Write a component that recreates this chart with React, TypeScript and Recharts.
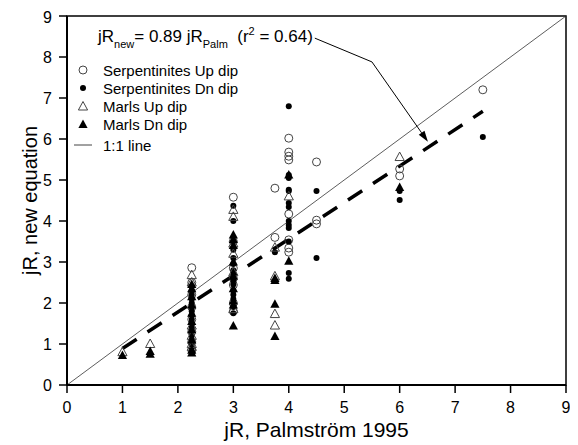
import {
  ScatterChart,
  Scatter,
  XAxis,
  YAxis,
  ReferenceLine,
  ReferenceArea,
  Legend,
} from "recharts";

// each row: [jR Palmström 1995, jR new equation]
const serpUp: [number, number][] = [
  [2.25, 2.86], [2.25, 2.5], [2.25, 2.2], [2.25, 1.9], [2.25, 1.6], [2.25, 1.3], [2.25, 1.05], [2.25, 0.85],
  [3, 4.58], [3, 3.5], [3, 2.85], [3, 2.6], [3, 2.44], [3, 2.0], [3, 1.8],
  [3.75, 4.8], [3.75, 3.6],
  [4, 6.02], [4, 5.68], [4, 5.58], [4, 5.49], [4, 4.17], [4, 3.54], [4, 3.34], [4, 3.24],
  [4.5, 5.44], [4.5, 4.02], [4.5, 3.93],
  [6, 5.27], [6, 5.1],
  [7.5, 7.2],
];

const serpDn: [number, number][] = [
  [2.25, 2.4], [2.25, 2.3], [2.25, 2.2], [2.25, 2.1], [2.25, 2.0], [2.25, 1.9], [2.25, 1.8], [2.25, 1.7],
  [2.25, 1.6], [2.25, 1.5], [2.25, 1.4], [2.25, 1.3], [2.25, 1.2], [2.25, 1.1], [2.25, 1.0], [2.25, 0.9], [2.25, 0.8],
  [3, 4.37], [3, 4.0], [3, 3.5], [3, 3.3], [3, 3.1], [3, 2.95], [3, 2.8], [3, 2.7], [3, 2.55], [3, 2.45],
  [3, 2.3], [3, 2.2], [3, 2.1], [3, 1.9], [3, 1.75],
  [3.75, 3.24],
  [4, 6.8], [4, 5.12], [4, 5.05], [4, 4.76], [4, 4.73], [4, 4.44], [4, 4.34], [4, 4.0], [4, 3.9], [4, 3.83],
  [4, 3.5], [4, 2.73], [4, 2.59],
  [4.5, 4.73], [4.5, 3.1],
  [6, 4.73], [6, 4.51],
  [7.5, 6.05],
];

const marlUp: [number, number][] = [
  [1, 0.8], [1.5, 1.0],
  [2.25, 2.68], [2.25, 2.5], [2.25, 1.45], [2.25, 1.2], [2.25, 1.0], [2.25, 0.93],
  [3, 4.27], [3, 4.1], [3, 3.45], [3, 3.2], [3, 2.75], [3, 1.85],
  [3.75, 3.35], [3.75, 2.65], [3.75, 1.73], [3.75, 1.45],
  [4, 4.6],
  [6, 5.56],
];

const marlDn: [number, number][] = [
  [1, 0.72], [1.5, 0.82], [1.5, 0.75],
  [2.25, 2.45], [2.25, 2.35], [2.25, 2.15], [2.25, 1.95], [2.25, 1.75], [2.25, 1.55], [2.25, 1.35],
  [2.25, 1.1], [2.25, 0.85], [2.25, 0.78],
  [3, 3.66], [3, 3.55], [3, 3.4], [3, 3.0], [3, 2.65], [3, 2.35], [3, 2.05], [3, 1.95], [3, 1.44],
  [3.75, 2.6], [3.75, 2.55], [3.75, 1.97], [3.75, 1.18],
  [4, 5.12], [4, 3.02],
  [6, 4.82],
];

const ticks = [0, 1, 2, 3, 4, 5, 6, 7, 8, 9];
const legendLabels = [
  "Serpentinites Up dip",
  "Serpentinites Dn dip",
  "Marls Up dip",
  "Marls Dn dip",
  "1:1 line",
];

// regression jR_new = 0.89 jR_Palm, drawn over the data range
const slope = 0.89;
const fitFrom = 1;
const fitTo = 7.5;
// arrow from the equation to the fit line
const arrowPath: [number, number][] = [
  [4.47, 8.46],
  [5.5, 7.88],
  [6.51, 5.93],
];

const FONT = "Arial, 'Liberation Sans', sans-serif";
const GREY = "#444";

const toPts = (rows: [number, number][]) => rows.map(([x, y]) => ({ x, y }));

const OpenCircle = (p: any) => (
  <circle cx={p.cx} cy={p.cy} r={4} fill="none" stroke={GREY} strokeWidth={1} />
);
const Dot = (p: any) => <circle cx={p.cx} cy={p.cy} r={3} fill="#000" />;
const triPath = (cx: number, cy: number) =>
  `M${cx},${cy - 5}L${cx + 4.6},${cy + 3.5}L${cx - 4.6},${cy + 3.5}Z`;
const OpenTri = (p: any) => (
  <path d={triPath(p.cx, p.cy)} fill="none" stroke={GREY} strokeWidth={1} />
);
const FilledTri = (p: any) => <path d={triPath(p.cx, p.cy)} fill="#000" />;

const legendSymbols = [
  <circle cx={6} cy={6} r={4} fill="none" stroke={GREY} />,
  <circle cx={6} cy={6} r={3} fill="#000" />,
  <path d={triPath(6, 6.5)} fill="none" stroke={GREY} />,
  <path d={triPath(6, 6.5)} fill="#000" />,
  <line x1={-3} y1={6} x2={15} y2={6} stroke={GREY} strokeWidth={1} />,
];

const LegendBox = () => (
  <div style={{ fontFamily: FONT, fontSize: 15, color: "#000" }}>
    {legendLabels.map((label, i) => (
      <div
        key={label}
        style={{
          display: "flex",
          alignItems: "center",
          height: 18,
          marginTop: i === 4 ? 3 : 0,
        }}
      >
        <svg width={12} height={12} style={{ overflow: "visible" }}>
          {legendSymbols[i]}
        </svg>
        <span style={{ marginLeft: 14, whiteSpace: "nowrap" }}>{label}</span>
      </div>
    ))}
  </div>
);

const ArrowShape = (p: any) => {
  const { x1, y1, x2, y2 } = p;
  const a = Math.atan2(y2 - y1, x2 - x1);
  const len = 11;
  const w = 3.5;
  const bx = x2 - len * Math.cos(a);
  const by = y2 - len * Math.sin(a);
  const nx = -Math.sin(a) * w;
  const ny = Math.cos(a) * w;
  return (
    <g>
      <line x1={x1} y1={y1} x2={bx} y2={by} stroke="#000" strokeWidth={1} />
      <path d={`M${x2},${y2}L${bx + nx},${by + ny}L${bx - nx},${by - ny}Z`} fill="#000" />
    </g>
  );
};

const YLabel = (p: any) => {
  const vb = p.viewBox;
  const cx = 22;
  const cy = vb.y + vb.height / 2;
  return (
    <text
      x={cx}
      y={cy}
      transform={`rotate(-90 ${cx} ${cy})`}
      textAnchor="middle"
      dominantBaseline="central"
      fontSize={20}
      fontFamily={FONT}
      fill="#000"
    >
      jR, new equation
    </text>
  );
};

export default function App() {
  return (
    <ScatterChart
      width={570}
      height={437}
      margin={{ top: 8, right: 12, left: 0, bottom: 0 }}
      style={{ fontFamily: FONT }}
    >
      <ReferenceArea x1={0} x2={9} y1={0} y2={9} fill="none" stroke="#000" strokeWidth={1.5} />
      <XAxis
        type="number"
        dataKey="x"
        domain={[0, 9]}
        ticks={ticks}
        allowDataOverflow
        height={60}
        tickSize={8}
        tickMargin={9}
        axisLine={{ stroke: "#000", strokeWidth: 2 }}
        tickLine={{ stroke: "#000", strokeWidth: 1.5 }}
        tick={{ fill: "#000", fontSize: 16, fontFamily: FONT }}
        label={{
          value: "jR, Palmström 1995",
          position: "insideBottom",
          offset: 8,
          fontSize: 21,
          fill: "#000",
          fontFamily: FONT,
        }}
      />
      <YAxis
        type="number"
        dataKey="y"
        domain={[0, 9]}
        ticks={ticks}
        allowDataOverflow
        width={59}
        tickSize={8}
        tickMargin={7}
        axisLine={{ stroke: "#000", strokeWidth: 2 }}
        tickLine={{ stroke: "#000", strokeWidth: 1.5 }}
        tick={{ fill: "#000", fontSize: 16, fontFamily: FONT }}
        label={{ content: YLabel }}
      />
      <ReferenceLine
        segment={[
          { x: 0, y: 0 },
          { x: 9, y: 9 },
        ]}
        stroke="#333"
        strokeWidth={0.8}
      />
      <ReferenceLine
        segment={[
          { x: fitFrom, y: slope * fitFrom },
          { x: fitTo, y: slope * fitTo },
        ]}
        stroke="#000"
        strokeWidth={3.5}
        strokeDasharray="17 13"
      />
      <ReferenceLine
        segment={[
          { x: arrowPath[0][0], y: arrowPath[0][1] },
          { x: arrowPath[1][0], y: arrowPath[1][1] },
        ]}
        stroke="#000"
        strokeWidth={1}
      />
      <ReferenceLine
        segment={[
          { x: arrowPath[1][0], y: arrowPath[1][1] },
          { x: arrowPath[2][0], y: arrowPath[2][1] },
        ]}
        shape={ArrowShape}
      />
      <Scatter name="Serpentinites Up dip" data={toPts(serpUp)} shape={OpenCircle} isAnimationActive={false} />
      <Scatter name="Serpentinites Dn dip" data={toPts(serpDn)} shape={Dot} isAnimationActive={false} />
      <Scatter name="Marls Up dip" data={toPts(marlUp)} shape={OpenTri} isAnimationActive={false} />
      <Scatter name="Marls Dn dip" data={toPts(marlDn)} shape={FilledTri} isAnimationActive={false} />
      <Legend
        layout="vertical"
        align="center"
        verticalAlign="middle"
        content={LegendBox}
        wrapperStyle={{ left: 69, top: 53, width: 220, height: "auto" }}
      />
      <text x={90} y={34} fontFamily={FONT} fontSize={17} fill="#000">
        jR
        <tspan fontSize={11} dy={6}>new</tspan>
        <tspan dy={-6}>= 0.89 jR</tspan>
        <tspan fontSize={11} dy={6}>Palm</tspan>
        <tspan dy={-6}>{"\u00a0\u00a0(r"}</tspan>
        <tspan fontSize={11} dy={-7}>2</tspan>
        <tspan dy={7}> = 0.64)</tspan>
      </text>
    </ScatterChart>
  );
}
